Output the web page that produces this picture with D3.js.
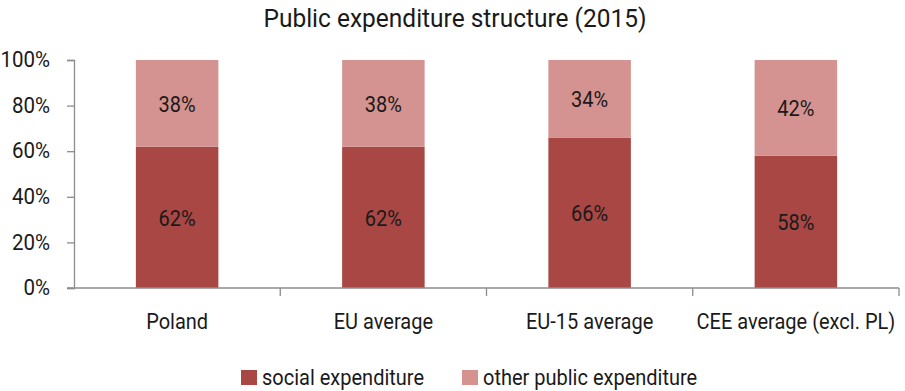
<!DOCTYPE html>
<html>
<head>
<meta charset="utf-8">
<script src="https://cdn.jsdelivr.net/npm/d3@7"></script>
<style>
  html, body { margin: 0; padding: 0; background: #fff; }
  svg { display: block; }
  text { font-family: Roboto, "Noto Sans", sans-serif; fill: #1a1a1a; }
</style>
</head>
<body>
<svg id="chart" width="905" height="391"></svg>
<script>
// Public expenditure structure, 2015 (shares of total public expenditure)
const categories = ["Poland", "EU average", "EU-15 average", "CEE average (excl. PL)"];
const socialExpenditure = [62, 62, 66, 58];
const otherExpenditure = [38, 38, 34, 42];
const yTicks = [0, 20, 40, 60, 80, 100];
const seriesNames = ["social expenditure", "other public expenditure"];
const seriesColors = ["#a84744", "#d49391"];

const W = 905, H = 391;
const margin = { top: 60, right: 6, bottom: 103, left: 74 };
const svg = d3.select("#chart");

// Narrow typeface look: draw the glyphs at displaySize and squeeze them
// horizontally to the advance width they would have at widthSize.
function condense(sel, widthSize, displaySize) {
  const s = widthSize / displaySize;
  sel.each(function () {
    const t = d3.select(this);
    const x0 = +t.attr("x") || 0;
    const y0 = +t.attr("y") || 0;
    t.attr("font-size", displaySize)
      .attr("x", 0).attr("y", 0)
      .attr("transform", `translate(${x0},${y0}) scale(${s},1)`);
  });
}

const x = d3.scaleBand()
  .domain(categories)
  .range([margin.left, W - margin.right])
  .paddingInner(0.6)
  .paddingOuter(0.3);

const y = d3.scaleLinear()
  .domain([0, 100])
  .range([H - margin.bottom, margin.top]);

// Title
svg.append("text")
  .attr("x", 455).attr("y", 27)
  .attr("text-anchor", "middle")
  .text("Public expenditure structure (2015)")
  .call(condense, 24.5, 26.5);

// Stacked bars
const rows = categories.map((c, i) => ({ cat: c, social: socialExpenditure[i], other: otherExpenditure[i] }));
const stack = d3.stack().keys(["social", "other"]);
const layers = stack(rows);

const g = svg.append("g");
layers.forEach((layer, li) => {
  g.append("g")
    .selectAll("rect")
    .data(layer)
    .join("rect")
    .attr("x", d => x(d.data.cat))
    .attr("width", x.bandwidth())
    .attr("y", d => y(d[1]))
    .attr("height", d => y(d[0]) - y(d[1]))
    .attr("fill", seriesColors[li]);

  g.append("g")
    .selectAll("text")
    .data(layer)
    .join("text")
    .attr("x", d => x(d.data.cat) + x.bandwidth() / 2)
    .attr("y", d => (y(d[0]) + y(d[1])) / 2 + 8.5)
    .attr("text-anchor", "middle")
    .text(d => (d[1] - d[0]) + "%")
    .call(condense, 20, 22);
});

// Y axis
const yAxis = d3.axisLeft(y)
  .tickValues(yTicks)
  .tickFormat(d => d + "%")
  .tickSize(7)
  .tickPadding(17);
const ya = svg.append("g")
  .attr("transform", `translate(${margin.left},0)`)
  .call(yAxis);
ya.select(".domain").attr("stroke", "#8c8c8c").attr("stroke-width", 1.3);
ya.selectAll(".tick line").attr("stroke", "#8c8c8c").attr("stroke-width", 1.3);
ya.selectAll(".tick text")
  .attr("fill", "#1a1a1a").attr("dy", "0.3em")
  .attr("font-family", "Roboto, sans-serif")
  .call(condense, 20.5, 22);

// X axis: baseline with ticks at category boundaries
const xa = svg.append("g").attr("transform", `translate(0,${y(0)})`);
xa.append("line")
  .attr("x1", margin.left - 7).attr("x2", W - margin.right)
  .attr("stroke", "#8c8c8c").attr("stroke-width", 1.3);
const boundaries = categories.map(c => x(c) + x.bandwidth() + (x.step() - x.bandwidth()) / 2);
xa.selectAll("line.b")
  .data(boundaries)
  .join("line")
  .attr("class", "b")
  .attr("x1", d => d).attr("x2", d => d)
  .attr("y1", 0).attr("y2", 8)
  .attr("stroke", "#8c8c8c").attr("stroke-width", 1.3);
xa.selectAll("text")
  .data(categories)
  .join("text")
  .attr("x", d => x(d) + x.bandwidth() / 2)
  .attr("y", 40.5)
  .attr("text-anchor", "middle")
  .text(d => d)
  .call(condense, 20, 22);

// Legend
const legendX = [241, 462];
const lg = svg.append("g");
seriesNames.forEach((name, i) => {
  lg.append("rect")
    .attr("x", legendX[i]).attr("y", 370)
    .attr("width", 16).attr("height", 15)
    .attr("fill", seriesColors[i]);
  lg.append("text")
    .attr("x", legendX[i] + 21).attr("y", 384.5)
    .text(name)
    .call(condense, 20, 22);
});
</script>
</body>
</html>
